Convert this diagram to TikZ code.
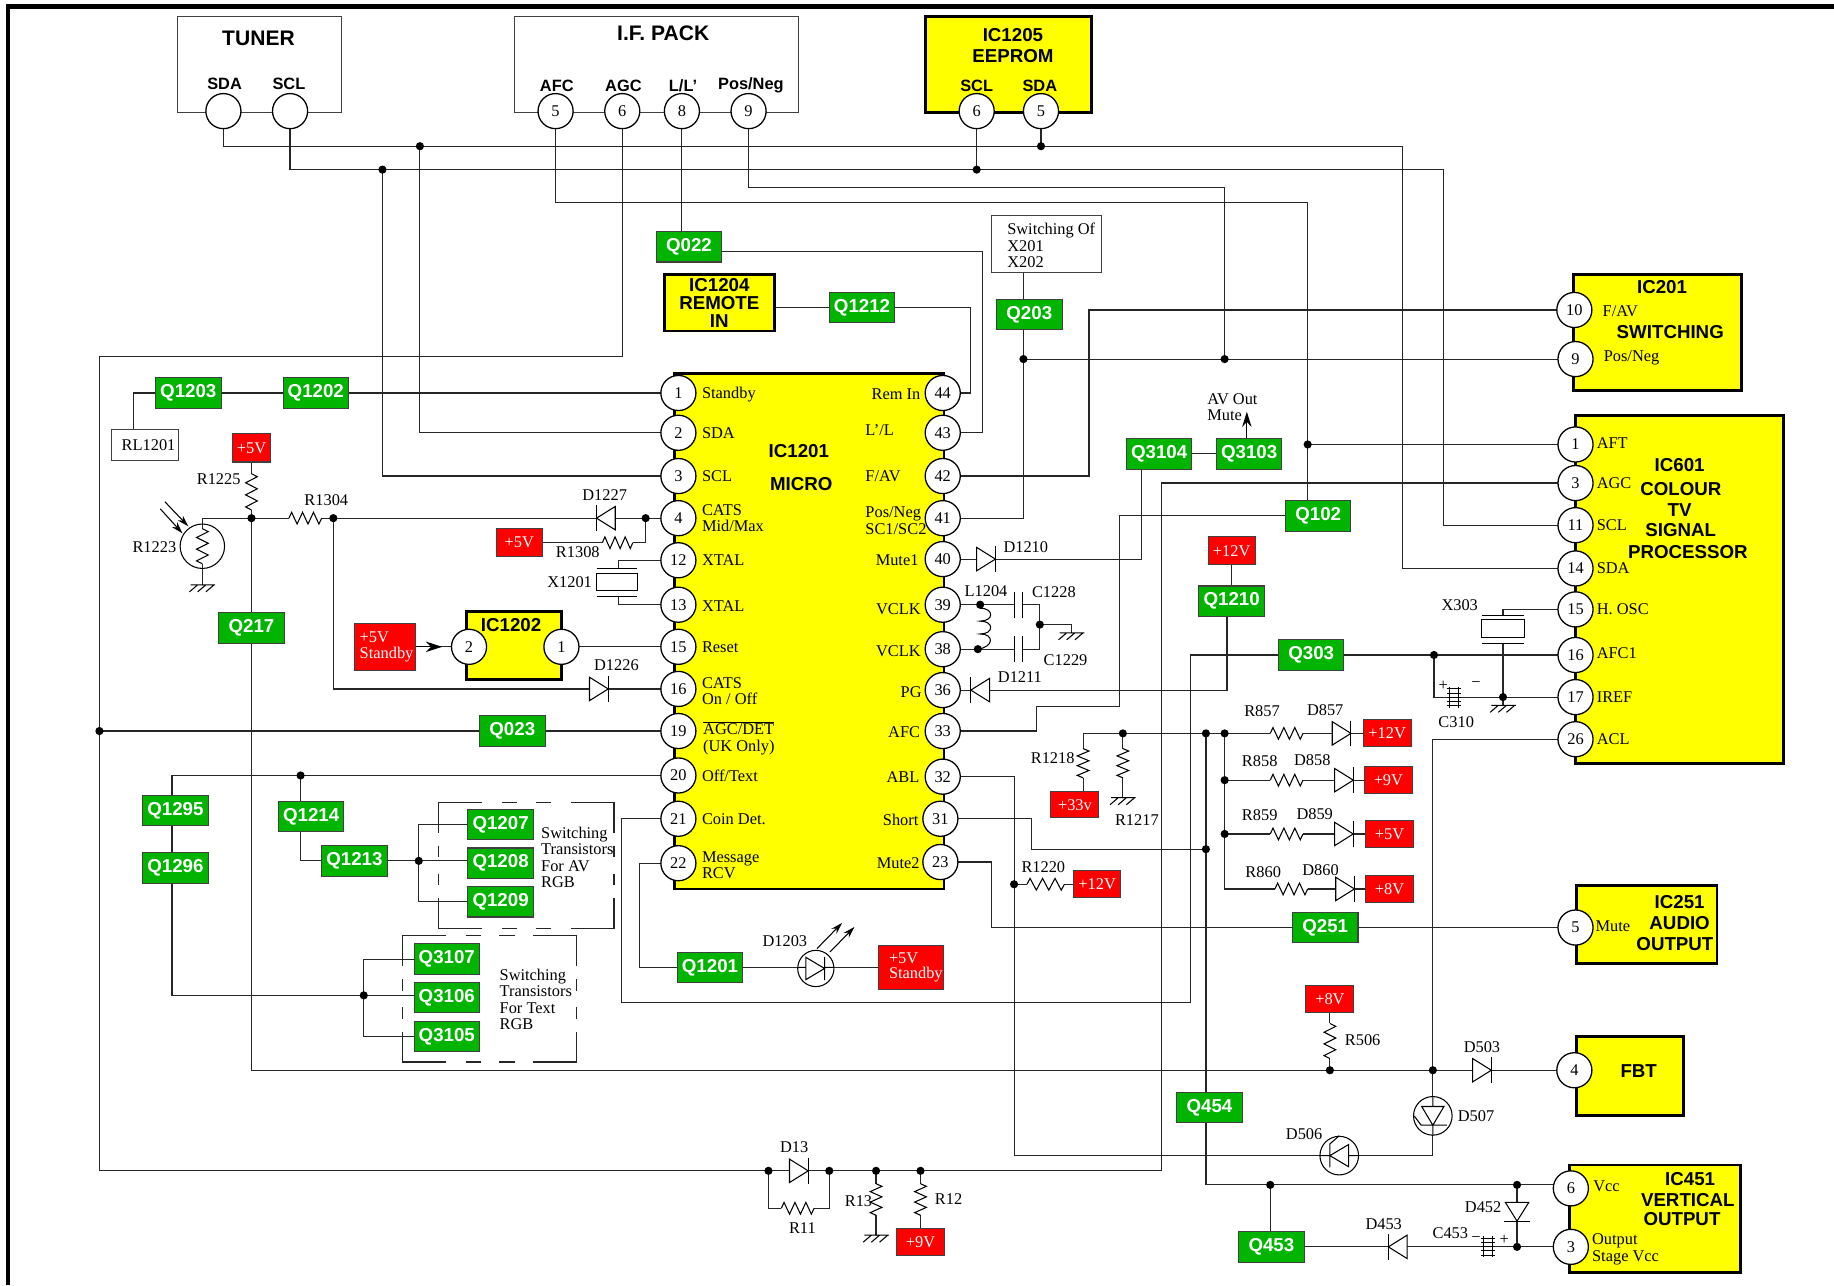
\documentclass[tikz,border=0pt]{standalone}
\usepackage{fontspec}
\setmainfont{Liberation Serif}
\setsansfont{Liberation Sans}
\usetikzlibrary{arrows.meta}
\pgfdeclarelayer{boxes}
\pgfdeclarelayer{wires}
\pgfsetlayers{boxes,wires,main}
\newcounter{lbc}
\definecolor{icyellow}{RGB}{255,255,0}
\definecolor{qgreen}{RGB}{0,180,0}
\definecolor{vred}{RGB}{255,0,0}
\tikzset{
 wire/.style={draw=black!85,line width=1pt,line cap=round,line join=miter},
 part/.style={draw=black,line width=0.9pt,line join=miter},
 pinc/.style={circle,draw=black,fill=white,line width=1.1pt,minimum size=30pt,inner sep=0pt,font=\fontsize{14}{14}\selectfont},
 qbox/.style={rectangle,draw=black!75,fill=qgreen,line width=0.9pt,minimum width=56pt,minimum height=26pt,inner sep=0pt,text=white,font=\sffamily\bfseries\fontsize{16}{16}\selectfont},
 rbox/.style={rectangle,draw=black!75,fill=vred,line width=0.9pt,inner sep=0pt,text=white,align=left,font=\fontsize{14}{14}\selectfont},
 icbox/.style={rectangle,draw=black,fill=icyellow,line width=2.4pt,inner sep=0pt},
 plainbox/.style={rectangle,draw=black!75,fill=white,line width=0.9pt,inner sep=0pt},
 jdot/.style={circle,fill=black,minimum size=7pt,inner sep=0pt},
 tlab/.style={inner sep=0pt,text=black,align=left,font=\fontsize{14}{14}\selectfont},
 slab/.style={inner sep=0pt,text=black,align=center,font=\sffamily\bfseries\fontsize{14}{14}\selectfont},
 hlab/.style={inner sep=0pt,text=black,align=center,font=\sffamily\bfseries\fontsize{16}{17.5}\selectfont},
 dashline/.style={draw=black!85,line width=1pt},
}
\newcommand{\pinn}[4]{\node[pinc] (#1) at (#2,#3) {#4};}
\newcommand{\qb}[4]{\node[qbox] (#1) at (#2,#3) {#4};}
\newcommand{\rb}[6]{\node[rbox,minimum width=#4pt,minimum height=#5pt] (#1) at (#2,#3) {#6};}
\newcommand{\jd}[3]{\node[jdot] (#1) at (#2,#3) {};}
\newcommand{\lab}[3]{\stepcounter{lbc}\node[tlab] (t\arabic{lbc}) at (#1,#2) {#3};}
\newcommand{\lableft}[3]{\stepcounter{lbc}\node[tlab,anchor=west] (t\arabic{lbc}) at (#1,#2) {#3};}
\newcommand{\slb}[3]{\stepcounter{lbc}\node[slab] (t\arabic{lbc}) at (#1,#2) {#3};}
\newcommand{\hlb}[3]{\stepcounter{lbc}\node[hlab] (t\arabic{lbc}) at (#1,#2) {#3};}
\newcommand{\resH}[3]{\pgfmathsetmacro\rdx{(#2-#1)/12}%
 \draw[white,line width=3pt] (#1,#3) -- (#2,#3);
 \draw[part] (#1,#3) -- (#1+\rdx,#3-5) -- (#1+3*\rdx,#3+5) -- (#1+5*\rdx,#3-5) -- (#1+7*\rdx,#3+5) -- (#1+9*\rdx,#3-5) -- (#1+11*\rdx,#3+5) -- (#2,#3);}
\newcommand{\resV}[3]{\pgfmathsetmacro\rdy{(#3-#2)/12}%
 \draw[white,line width=3pt] (#1,#2) -- (#1,#3);
 \draw[part] (#1,#2) -- (#1+5,#2+\rdy) -- (#1-5,#2+3*\rdy) -- (#1+5,#2+5*\rdy) -- (#1-5,#2+7*\rdy) -- (#1+5,#2+9*\rdy) -- (#1-5,#2+11*\rdy) -- (#1,#3);}
\newcommand{\diR}[2]{\draw[part,fill=white] (#1-8,#2-10) -- (#1-8,#2+10) -- (#1+8,#2) -- cycle; \draw[part] (#1+8,#2-11) -- (#1+8,#2+11);}
\newcommand{\diL}[2]{\draw[part,fill=white] (#1+8,#2-10) -- (#1+8,#2+10) -- (#1-8,#2) -- cycle; \draw[part] (#1-8,#2-11) -- (#1-8,#2+11);}
\newcommand{\diD}[2]{\draw[part,fill=white] (#1-10,#2-8) -- (#1+10,#2-8) -- (#1,#2+8) -- cycle; \draw[part] (#1-11,#2+8) -- (#1+11,#2+8);}
\newcommand{\gndd}[2]{\draw[part] (#1-10,#2) -- (#1+11,#2) (#1-4,#2) -- (#1-11,#2+6) (#1+3,#2) -- (#1-4,#2+6) (#1+10,#2) -- (#1+3,#2+6);}
\newcommand{\capH}[2]{\draw[white,line width=3pt] (#1-4,#2) -- (#1+4,#2);
 \draw[part] (#1-4,#2-9) -- (#1-4,#2+9) (#1+4,#2-9) -- (#1+4,#2+9)
 (#1-6,#2-7) -- (#1+6,#2-7) (#1-6,#2-3.5) -- (#1+6,#2-3.5) (#1-6,#2) -- (#1+6,#2) (#1-6,#2+3.5) -- (#1+6,#2+3.5) (#1-6,#2+7) -- (#1+6,#2+7);}
\newcommand{\capS}[2]{\draw[white,line width=3pt] (#1-3.5,#2) -- (#1+3.5,#2);
 \draw[part] (#1-3.5,#2-11) -- (#1-3.5,#2+11) (#1+3.5,#2-11) -- (#1+3.5,#2+11);}
\newcommand{\dashrect}[4]{%
 \draw[dashline] (#1,#2+26) -- (#1,#2) -- (#1+37,#2) (#1+54,#2) -- (#1+67,#2) (#1+83,#2) -- (#1+96,#2) (#3-37,#2) -- (#3,#2) -- (#3,#2+26);
 \draw[dashline] (#1,#4-26) -- (#1,#4) -- (#1+37,#4) (#1+54,#4) -- (#1+67,#4) (#1+83,#4) -- (#1+96,#4) (#3-37,#4) -- (#3,#4) -- (#3,#4-26);
 \draw[dashline] (#1,#2+37) -- (#1,#2+47) (#1,#2+61) -- (#1,#2+71) (#3,#2+37) -- (#3,#2+47) (#3,#2+61) -- (#3,#2+71);}
\newcommand{\ovl}[1]{\ensuremath{\overline{\hbox{#1}}}}
\begin{document}
\begin{tikzpicture}[x=1pt,y=-1pt]
\useasboundingbox (0,0) rectangle (1568,1098.7);
\draw[black,line width=3.6pt] (7,1098.7) -- (7,5.5) -- (1568,5.5);

% outline and IC boxes
\begin{pgfonlayer}{boxes}
\node[plainbox,minimum width=140pt,minimum height=82pt] (tuner) at (222,55) {};
\node[plainbox,minimum width=243pt,minimum height=82pt] (ifpack) at (561.5,55) {};
\node[icbox,minimum width=142pt,minimum height=82pt] (ic1205) at (862,55) {};
\node[icbox,minimum width=94pt,minimum height=48pt] (ic1204) at (615,259) {};
\node[icbox,minimum width=230pt,minimum height=441pt] (ic1201) at (692,539.5) {};
\node[icbox,minimum width=81pt,minimum height=58pt] (ic1202) at (439.5,552) {};
\node[icbox,minimum width=144pt,minimum height=99pt] (ic201) at (1417,284.5) {};
\node[icbox,minimum width=178pt,minimum height=298pt] (ic601) at (1436,504) {};
\node[icbox,minimum width=120pt,minimum height=67pt] (ic251) at (1408,790.5) {};
\node[icbox,minimum width=91pt,minimum height=68pt] (fbt) at (1393.5,920) {};
\node[icbox,minimum width=146pt,minimum height=92pt] (ic451) at (1415,1042) {};
\dashrect{375}{686}{525}{794}
\dashrect{344}{800}{493}{908}
\end{pgfonlayer}

% pins
\pinn{tsda}{191}{95}{} \pinn{tscl}{248}{95}{}
\pinn{ifafc}{475}{95}{5} \pinn{ifagc}{532}{95}{6} \pinn{ifl}{583}{95}{8} \pinn{ifpn}{640}{95}{9}
\pinn{eesix}{835}{95}{6} \pinn{eefive}{890}{95}{5}
\pinn{aa1}{580}{336}{1} \pinn{aa2}{580}{370}{2} \pinn{aa3}{580}{407}{3} \pinn{aa4}{580}{443}{4}
\pinn{aa12}{580}{479}{12} \pinn{aa13}{580}{517}{13} \pinn{aa15}{580}{553}{15} \pinn{aa16}{580}{589}{16}
\pinn{aa19}{580}{625}{19} \pinn{aa20}{580}{663}{20} \pinn{aa21}{580}{700}{21} \pinn{aa22}{580}{738}{22}
\pinn{bb44}{806}{336}{44} \pinn{bb43}{806}{370}{43} \pinn{bb42}{806}{407}{42} \pinn{bb41}{806}{443}{41}
\pinn{bb40}{806}{478}{40} \pinn{bb39}{806}{517}{39} \pinn{bb38}{806}{555}{38} \pinn{bb36}{806}{590}{36}
\pinn{bb33}{806}{625}{33} \pinn{bb32}{806}{664}{32} \pinn{bb31}{804}{700}{31} \pinn{bb23}{804}{737}{23}
\pinn{icb2}{401}{553}{2} \pinn{icb1}{480}{553}{1}
\pinn{sw10}{1346}{265}{10} \pinn{sw9}{1347}{307}{9}
\pinn{pp1}{1347}{380}{1} \pinn{pp3}{1347}{413}{3} \pinn{pp11}{1347}{449}{11} \pinn{pp14}{1347}{486}{14}
\pinn{pp15}{1347}{521}{15} \pinn{pp16}{1347}{560}{16} \pinn{pp17}{1347}{596}{17} \pinn{pp26}{1347}{632}{26}
\pinn{mu5}{1347}{793}{5} \pinn{fb4}{1346}{915}{4} \pinn{ve6}{1343}{1016}{6} \pinn{ve3}{1343}{1066}{3}

% transistor boxes
\qb{q022}{589}{211}{Q022} \qb{q1212}{737}{263}{Q1212} \qb{q203}{880}{269}{Q203}
\qb{q1203}{161}{336}{Q1203} \qb{q1202}{270}{336}{Q1202}
\qb{q3104}{991}{388}{Q3104} \qb{q3103}{1068}{388}{Q3103} \qb{q102}{1127}{441}{Q102}
\qb{q1210}{1053}{514}{Q1210} \qb{q217}{215}{537}{Q217} \qb{q303}{1121}{560}{Q303}
\qb{q023}{438}{625}{Q023} \qb{q1295}{150}{693}{Q1295} \qb{q1296}{150}{742}{Q1296}
\qb{q1214}{266}{698}{Q1214} \qb{q1213}{303}{736}{Q1213}
\qb{q1207}{428}{705}{Q1207} \qb{q1208}{428}{738}{Q1208} \qb{q1209}{428}{771}{Q1209}
\qb{q3107}{382}{820}{Q3107} \qb{q3106}{382}{853}{Q3106} \qb{q3105}{382}{886}{Q3105}
\qb{q1201}{607}{827}{Q1201} \qb{q251}{1133}{793}{Q251} \qb{q454}{1034}{947}{Q454} \qb{q453}{1087}{1066}{Q453}

% supply boxes
\rb{vfa}{215}{383}{32}{24}{+5V}
\rb{vfb}{444}{464}{39}{24}{+5V}
\rb{vfst}{329}{553}{52}{40}{\hspace*{3pt}+5V\\[-1pt]\hspace*{3pt}Standby}
\rb{vtwa}{1053}{471}{40}{24}{+12V}
\rb{vtt}{919}{688}{41}{22}{+33v}
\rb{vtwb}{938}{756}{40}{23}{+12V}
\rb{v857}{1186}{627}{41}{23}{+12V}
\rb{v858}{1187}{667}{41}{23}{+9V}
\rb{v859}{1188}{713}{41}{23}{+5V}
\rb{v860}{1188}{760}{41}{23}{+8V}
\rb{vfstb}{779}{827}{56}{38}{\hspace*{8pt}+5V\\[-1pt]\hspace*{8pt}Standby}
\rb{ve}{1137}{854}{41}{23}{+8V}
\rb{vn}{787}{1062}{41}{23}{+9V}

% white boxes
\node[plainbox,minimum width=57pt,minimum height=27pt,font=\fontsize{14}{14}\selectfont] (rlb) at (124,380.5) {\hspace*{6pt}RL1201};
\node[plainbox,minimum width=94pt,minimum height=49pt] (swbox) at (895,208.5) {};
\lableft{861}{210}{Switching Of\\X201\\X202}

% junctions
\jd{jsda}{359}{125} \jd{jscl}{327}{145} \jd{jeefive}{890}{125} \jd{jeesix}{835}{145}
\jd{jaft}{1118}{380} \jd{jpn}{1047}{307} \jd{jqt}{875}{307}
\jd{jll}{85}{625} \jd{jda}{657}{1001} \jd{jdb}{709}{1001} \jd{jrt}{749}{1001} \jd{jrn}{787}{1001}
\jd{jtop}{215}{443} \jd{jrf}{285}{443} \jd{jfour}{552}{443}
\jd{joff}{257}{663} \jd{jav}{358}{736} \jd{jtx}{311}{851}
\jd{jla}{838}{517} \jd{jlb}{836}{555} \jd{jcg}{889}{534}
\jd{jr17}{960}{627} \jd{jbus}{1031}{627} \jd{jbr}{1047}{627} \jd{jbra}{1047}{667} \jd{jbrb}{1047}{713} \jd{jsh}{1031}{726}
\jd{jabl}{867}{756} \jd{jos}{1226}{560} \jd{jx}{1285}{596}
\jd{jfe}{1137}{915} \jd{jfl}{1225}{915} \jd{jvt}{1086}{1013} \jd{jva}{1297}{1013} \jd{jvb}{1297}{1066}

% wires
\begin{pgfonlayer}{wires}
\draw[wire] (tsda.center) |- (jsda.center) -- (jeefive.center) -- (1199,125) |- (pp14.center);
\draw[wire] (jsda.center) |- (aa2.center);
\draw[wire] (jeefive.center) -- (eefive.center);
\draw[wire] (tscl.center) |- (jscl.center) -- (jeesix.center) -- (1234,145) |- (pp11.center);
\draw[wire] (jscl.center) |- (aa3.center);
\draw[wire] (jeesix.center) -- (eesix.center);
\draw[wire] (ifafc.center) |- (1118,173) -- (jaft.center) -- (1118,441);
\draw[wire] (jaft.center) -- (pp1.center);
\draw[wire] (q102.center) -- (957,441) -- (957,604) -- (886,604) -- (886,625) -- (bb33.center);
\draw[wire] (ifagc.center) |- (85,305) -- (jll.center) -- (85,1001) -- (jda.center) -- (jdb.center) -- (jrt.center) -- (jrn.center) -- (993,1001) |- (pp3.center);
\draw[wire] (jll.center) -- (q023.center) -- (aa19.center);
\draw[wire] (jda.center) |- (686,1033) -| (jdb.center);
\draw[wire] (jrt.center) -- (749,1056);
\draw[wire] (jrn.center) -- (vn.center);
\draw[wire] (ifl.center) -- (583,211);
\draw[wire] (589,215) -- (840,215) |- (bb43.center);
\draw[wire] (ifpn.center) |- (1047,160) -- (jpn.center);
\draw[wire] (875,215) -- (jqt.center) -- (875,443) -- (bb41.center);
\draw[wire] (jqt.center) -- (jpn.center) -- (sw9.center);
\draw[wire] (sw10.center) -- (931,265) |- (bb42.center);
\draw[wire] (ic1204.east |- q1212.center) -- (q1212.center);
\draw[wire] (q1212.center) -- (830,263) |- (bb44.center);
\draw[wire] (aa1.center) -- (q1202.center) -- (q1203.center) -- (114,336) -- (114,380);
\draw[wire] (vfa.center) -- (jtop.center) -- (q217.center) -- (215,915) -- (jfe.center) -- (jfl.center) -- (fb4.center);
\draw[wire] (173,500) -- (173,443) -- (jtop.center) -- (jrf.center) -- (jfour.center) -- (aa4.center);
\draw[wire] (jrf.center) |- (aa16.center);
\draw[wire] (vfb.center) -- (552,464) -- (jfour.center);
\draw[wire] (aa12.center) -- (529,479) -- (529,486);
\draw[wire] (aa13.center) -- (529,517) -- (529,510);
\draw[wire] (icb1.center) -- (aa15.center);
\draw[wire] (vfst.east) -- (icb2.center);
\draw[wire] (aa20.center) -- (joff.center) -- (147,663) -- (147,851) -- (jtx.center);
\draw[wire] (joff.center) |- (q1213.center) -- (jav.center);
\draw[wire] (q1207.center) -| (jav.center);
\draw[wire] (jav.center) -- (400,736);
\draw[wire] (q1209.center) -| (jav.center);
\draw[wire] (q3107.center) -| (jtx.center);
\draw[wire] (jtx.center) -- (355,851);
\draw[wire] (q3105.center) -| (jtx.center);
\draw[wire] (aa21.center) -- (531,700) -- (531,857) -- (1018,857) |- (q303.center) -- (jos.center) -- (pp16.center);
\draw[wire] (aa22.center) -- (547,738) |- (q1201.center) -- (vfstb.center);
\draw[wire] (bb40.center) -- (976,478) -- (976,395);
\draw[wire] (q3104.center) -- (q3103.center);
\draw[wire] (bb39.center) -- (889,517) -- (889,555) -- (bb38.center);
\draw[wire] (jcg.center) -- (916,534) -- (916,541);
\draw[wire] (bb36.center) -- (1049,590) -- (1049,514);
\draw[wire] (q1210.center) -- (vtwa.center);
\draw[wire] (vtt.center) ++(7,0) -- (926,627) -- (jr17.center) -- (jbus.center) -- (jbr.center) -- (v857.center);
\draw[wire] (jr17.center) -- (960,682);
\draw[wire] (jbus.center) -- (jsh.center) -- (1031,947) -- (1031,1013) -- (jvt.center) -- (jva.center) -- (1343,1013);
\draw[wire] (jbr.center) -- (jbra.center) -- (jbrb.center) -- (1047,760) -- (v860.center);
\draw[wire] (jbra.center) -- (v858.center);
\draw[wire] (jbrb.center) -- (v859.center);
\draw[wire] (bb31.center) -- (882,700) -- (882,726) -- (jsh.center);
\draw[wire] (bb32.center) -- (867,664) -- (jabl.center) -- (867,988) -- (1225,988) -- (jfl.center) -- (1225,632) -- (pp26.center);
\draw[wire] (jabl.center) -- (vtwb.center);
\draw[wire] (bb23.center) -- (848,737) |- (q251.center) -- (mu5.center);
\draw[wire] (pp15.center) -- (1285,521) -- (1285,526);
\draw[wire] (1285,550) -- (1285,603);
\draw[wire] (jos.center) |- (jx.center) -- (pp17.center);
\draw[wire] (ve.center) -- (jfe.center);
\draw[wire] (jvt.center) -- (1086,1066) -- (jvb.center) -- (ve3.center);
\draw[wire] (jva.center) -- (jvb.center);
\end{pgfonlayer}

% arrows
\draw[draw=black,line width=1pt,-{Stealth[length=14pt,width=9pt]}] (vfst.east) -- (378,553);
\draw[draw=black,line width=1pt,-{Stealth[length=13pt,width=8pt]}] (q3103.north -| 1066,0) -- (1066,352);

% parts: resistors
\resV{215}{405}{436}
\resH{247}{275}{443}
\resH{515}{541}{464}
\resV{173}{452}{482}
\resH{1086}{1114}{627}
\resH{1086}{1114}{667}
\resH{1086}{1114}{713}
\resH{1090}{1118}{760}
\resV{926}{640}{665}
\resV{960}{640}{665}
\resH{878}{910}{756}
\resV{1137}{875}{905}
\resH{668}{696}{1033}
\resV{749}{1012}{1039}
\resV{787}{1012}{1039}

% parts: diodes
\diL{518}{443} \diR{512}{589} \diR{843}{478} \diL{838}{590}
\diR{1147}{627} \diR{1149}{667} \diR{1149}{713} \diR{1150}{760}
\diR{1267}{915} \diR{683}{1001} \diD{1297}{1036} \diL{1195}{1066}
\capH{1243}{596}
\capH{1272}{1066}
\capS{871}{517}
\capS{871}{555}

% ground symbols
\gndd{173}{500} \gndd{916}{541} \gndd{960}{682} \gndd{1285}{603} \gndd{749}{1056}

% crystals
\draw[part,fill=white] (510,490) rectangle (545,505);
\draw[part] (510,486) -- (545,486) (510,510) -- (545,510);
\draw[part,fill=white] (1267,530) rectangle (1303,545);
\draw[part] (1267,526) -- (1303,526) (1267,550) -- (1303,550);

% coil
\draw[part] (838,517) -- (838,520) .. controls (850,520) and (850,531) .. (838,531) .. controls (850,531) and (850,542) .. (838,542) .. controls (850,542) and (850,553) .. (836,555);

% R1223 photo resistor
\node[circle,draw=black,line width=0.9pt,minimum size=38pt,inner sep=0pt] (phot) at (173,467) {};
\draw[part,-{Stealth[length=10pt,width=6pt]}] (137,435) -- (156,456);
\draw[part,-{Stealth[length=10pt,width=6pt]}] (141,429) -- (161,450);

% LED D1203
\node[circle,draw=black,fill=white,line width=0.9pt,minimum size=31pt,inner sep=0pt] (led) at (697.5,828) {};
\draw[part] (689,818.5) -- (689,837.5) -- (705,828) -- cycle (705,818) -- (705,838) (682,827) -- (689,827) (705,827) -- (713,827);
\draw[part,-{Stealth[length=10pt,width=6pt]}] (698.5,811) -- (720,789);
\draw[part,-{Stealth[length=10pt,width=6pt]}] (709.5,814) -- (730.5,792.5);

% D507
\node[circle,draw=black,fill=white,line width=0.9pt,minimum size=33pt,inner sep=0pt] (ds) at (1225,954) {};
\draw[part] (1215.5,946) -- (1234.5,946) -- (1225,962) -- cycle (1215,962) -- (1237,962) (1215,962) -- (1209,954) (1225,938) -- (1225,946) (1225,962) -- (1225,971);
% D506
\node[circle,draw=black,fill=white,line width=0.9pt,minimum size=33pt,inner sep=0pt] (dz) at (1145,988) {};
\draw[part] (1153,978.5) -- (1153,997.5) -- (1137,988) -- cycle (1137,978) -- (1137,998) (1137,978) -- (1145,971) (1128,988) -- (1137,988) (1153,988) -- (1162,988);

% headings
\hlb{221}{33}{\fontsize{18}{18}\selectfont TUNER}
\hlb{567}{28}{\fontsize{18}{18}\selectfont I.F. PACK}
\hlb{866}{39}{IC1205\\EEPROM}
\hlb{615}{259}{IC1204\\[-2.5pt]REMOTE\\[-2.5pt]IN}
\hlb{683}{386}{IC1201}
\hlb{685}{414}{MICRO}
\hlb{437}{534}{IC1202}
\hlb{1421}{245}{IC201}
\hlb{1428}{284}{SWITCHING}
\hlb{1436}{398}{IC601}
\hlb{1437}{418}{COLOUR}
\hlb{1436}{436}{TV}
\hlb{1437}{453}{SIGNAL}
\hlb{1443}{472}{PROCESSOR}
\hlb{1436}{771}{IC251}
\hlb{1436}{789}{AUDIO}
\hlb{1432}{807}{OUTPUT}
\hlb{1401}{916}{FBT}
\hlb{1445}{1008}{IC451}
\hlb{1443}{1026}{VERTICAL}
\hlb{1438}{1042}{OUTPUT}
\slb{192}{72}{SDA} \slb{247}{72}{SCL}
\slb{476}{73}{AFC} \slb{533}{73}{AGC} \slb{584}{73}{L/L’} \slb{642}{73}{Pos/Neg}
\slb{835}{73}{SCL} \slb{889}{73}{SDA}

% IC1201 left labels
\lableft{600}{337}{Standby} \lableft{600}{370}{SDA} \lableft{600}{407}{SCL}
\lableft{600}{443}{CATS\\Mid/Max} \lableft{600}{479}{XTAL} \lableft{600}{518}{XTAL}
\lableft{600}{553}{Reset} \lableft{600}{591}{CATS\\On / Off}
\lableft{601}{631}{\ovl{AGC/DET}\\(UK Only)} \lableft{600}{663}{Off/Text} \lableft{600}{700}{Coin Det.}
\lableft{600}{740}{Message\\RCV}
% IC1201 right labels
\lab{766}{337}{Rem In} \lab{752}{368}{L’/L} \lab{755}{407}{F/AV}
\lab{766}{445}{Pos/Neg\\SC1/SC2} \lab{767}{479}{Mute1} \lab{768}{521}{VCLK} \lab{768}{557}{VCLK}
\lab{779}{592}{PG} \lab{773}{626}{AFC} \lab{772}{664}{ABL} \lab{770}{701}{Short} \lab{768}{738}{Mute2}

% other IC labels
\lableft{1370}{266}{F/AV} \lableft{1371}{306}{Pos/Neg}
\lableft{1365}{379}{AFT} \lableft{1365}{413}{AGC} \lableft{1365}{449}{SCL} \lableft{1365}{486}{SDA}
\lableft{1365}{521}{H. OSC} \lableft{1365}{558}{AFC1} \lableft{1365}{596}{IREF} \lableft{1365}{632}{ACL}
\lableft{1364}{792}{Mute} \lableft{1362}{1014}{Vcc} \lableft{1361}{1068}{Output\\Stage Vcc}

% component labels
\lab{187}{410}{R1225} \lab{279}{428}{R1304} \lab{517}{423}{D1227} \lab{494}{472}{R1308}
\lab{132}{468}{R1223} \lab{487}{498}{X1201} \lab{527}{569}{D1226}
\lableft{462.5}{733}{Switching\\Transistors\\For AV\\RGB}
\lableft{427}{854.5}{Switching\\Transistors\\For Text\\RGB}
\lab{671}{805}{D1203}
\lab{877}{468}{D1210} \lab{843}{505}{L1204} \lab{901}{506}{C1228} \lab{911}{564}{C1229} \lab{872}{579}{D1211}
\lableft{1032}{348}{AV Out\\Mute}
\lab{900}{648}{R1218} \lab{972}{701}{R1217} \lab{892}{741}{R1220}
\lab{1079}{608}{R857} \lab{1133}{607}{D857}
\lab{1077}{651}{R858} \lab{1122}{650}{D858}
\lab{1077}{697}{R859} \lab{1124}{696}{D859}
\lab{1080}{746}{R860} \lab{1129}{744}{D860}
\lab{1248}{517}{X303} \lab{1234}{586}{+} \lab{1262}{585}{−} \lab{1245}{617}{C310}
\lab{1165}{889}{R506} \lab{1267}{895}{D503} \lab{1262}{954}{D507} \lab{1115}{970}{D506}
\lab{679}{981}{D13} \lab{686}{1050}{R11} \lab{734}{1027}{R13} \lab{811}{1025}{R12}
\lab{1268}{1032}{D452} \lab{1183}{1047}{D453} \lab{1240}{1054}{C453} \lab{1262}{1060}{−} \lab{1286}{1060}{+}
\end{tikzpicture}
\end{document}
